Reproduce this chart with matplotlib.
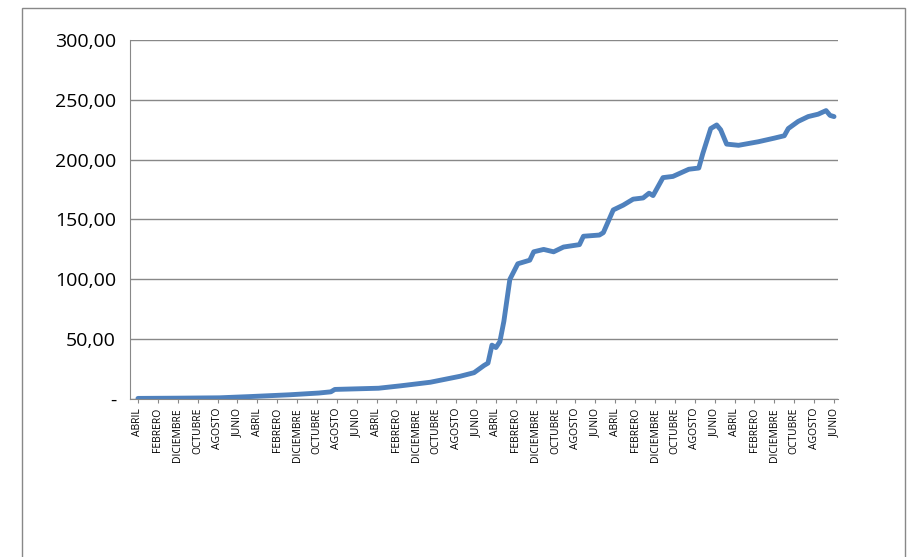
import matplotlib
matplotlib.use('Agg')
import matplotlib.pyplot as plt
from matplotlib.patches import Rectangle

# month offset from the first month (April) and the value
months = [0, 20, 41, 56, 76, 91, 97, 99, 121, 132, 147, 162, 169, 174, 176, 178, 180,
          182, 184, 187, 191, 197, 199, 204, 209, 214, 222, 224, 232, 234, 239, 244,
          249, 254, 257, 259, 264, 269, 277, 282, 284, 288, 291, 293, 296, 302, 312,
          320, 325, 327, 332, 337, 342, 346, 348, 350]
values = [0.5, 0.7, 1.0, 2.0, 3.5, 5.0, 6.0, 8.0, 9.0, 11.0, 14.0, 19.0, 22.0, 28.0,
          30.0, 45.0, 43.0, 48.0, 65.0, 100.0, 113.0, 116.0, 123.0, 125.0, 123.0,
          127.0, 129.0, 136.0, 137.0, 139.0, 158.0, 162.0, 167.0, 168.0, 172.0, 170.0,
          185.0, 186.0, 192.0, 193.0, 205.0, 226.0, 229.0, 225.0, 213.0, 212.0, 215.0,
          218.0, 220.0, 226.0, 232.0, 236.0, 238.0, 241.0, 237.0, 236.0]

month_names = ['ENERO', 'FEBRERO', 'MARZO', 'ABRIL', 'MAYO', 'JUNIO', 'JULIO',
               'AGOSTO', 'SEPTIEMBRE', 'OCTUBRE', 'NOVIEMBRE', 'DICIEMBRE']
tick_pos = list(range(0, 351, 10))
tick_labels = [month_names[(3 + m) % 12] for m in tick_pos]
yticks = [0, 50, 100, 150, 200, 250, 300]
ytick_labels = ['-', '50,00', '100,00', '150,00', '200,00', '250,00', '300,00']

fig = plt.figure(figsize=(9.07, 5.57), dpi=100)
fig.patches.append(Rectangle((22 / 907, -0.01), 883 / 907, 1 - 8 / 557 + 0.01,
                             transform=fig.transFigure, fill=False,
                             edgecolor='#888888', lw=1))
ax = fig.add_axes([130 / 907, 1 - 399 / 557, 708 / 907, 359 / 557])

ax.plot(months, values, color='#4F81BD', lw=3.5, solid_capstyle='round')

ax.set_ylim(0, 300)
ax.set_xlim(-4, 352)
ax.set_yticks(yticks)
ax.set_yticklabels(ytick_labels, fontsize=14, family='Open Sans')
ax.set_xticks(tick_pos)
ax.set_xticklabels(tick_labels, rotation=90, fontsize=7.5, family='Open Sans')
ax.tick_params(axis='y', length=0, pad=10)
ax.tick_params(axis='x', length=3, color='#888888')
ax.grid(axis='y', color='#888888', lw=1)
ax.set_axisbelow(True)
for s in ['top', 'right']:
    ax.spines[s].set_visible(False)
ax.spines['left'].set_color('#888888')
ax.spines['bottom'].set_color('#888888')

fig.savefig('out.png', dpi=100)
